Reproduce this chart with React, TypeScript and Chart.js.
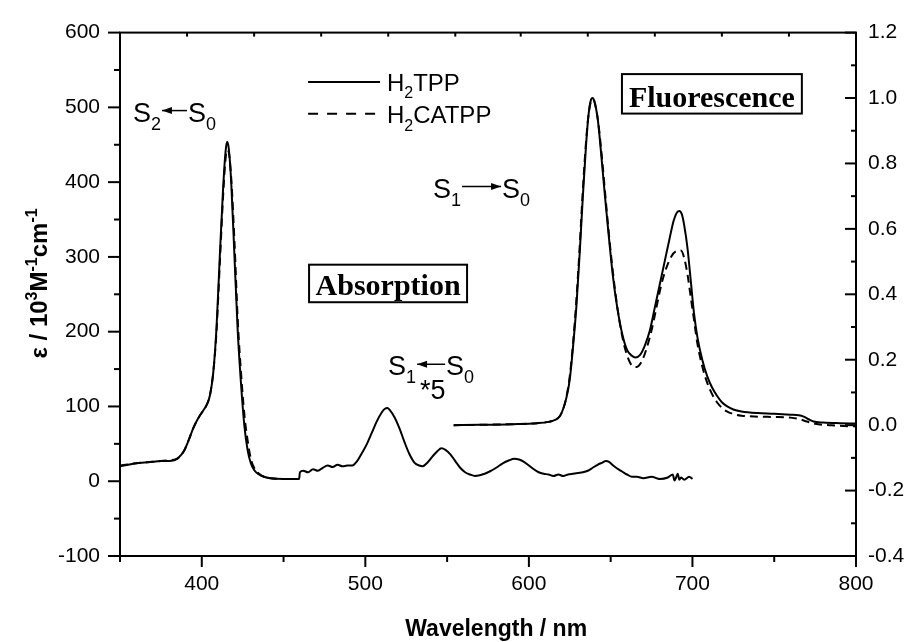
import React, { useEffect, useRef } from 'react';
import { Chart, registerables } from 'chart.js';

Chart.register(...registerables);

// ---------- data (wavelength nm, value) ----------
const ABS_H2TPP: number[][] = [
  [350, 20], [355, 22], [360, 24], [365, 25], [370, 26], [375, 27], [380, 27], [383, 28], [386, 32], [389, 40],
  [392, 55], [395, 72], [398, 85], [401, 95], [403, 102], [405, 115], [407, 145], [409, 205], [411, 300], [413, 390],
  [414.5, 440], [415.5, 454], [416.5, 445], [418, 400], [420, 300], [422, 200], [424, 130], [426, 75], [428, 42], [430, 24],
  [432, 15], [435, 9], [438, 6], [442, 4], [450, 3], [459.5, 3], [460, 12], [462, 14], [465, 12], [468, 16],
  [471, 14], [474, 18], [477, 21], [480, 19], [483, 22], [486, 20], [489, 21], [492, 21], [495, 27], [498, 38],
  [501, 50], [504, 65], [507, 80], [510, 92], [512, 97], [513.5, 98], [515, 95], [518, 85], [521, 70], [524, 52],
  [527, 36], [530, 25], [533, 21], [535, 20], [538, 25], [541, 33], [544, 40], [546.5, 44], [549, 42], [552, 36],
  [555, 27], [558, 18], [561, 12], [564, 9], [567, 7], [570, 8], [573, 10], [576, 13], [580, 18], [584, 24],
  [588, 28], [591, 30], [594, 29], [597, 26], [600, 21], [603, 16], [606, 12], [609, 10], [612, 9], [615, 7],
  [618, 9], [621, 7], [624, 9], [627, 10], [630, 11], [633, 12], [636, 14], [639, 18], [642, 22], [645, 25],
  [647, 27], [649, 26], [651, 22], [654, 17], [657, 13], [660, 9], [663, 6], [666, 6], [670, 4], [675, 6],
  [680, 3], [685, 5], [688, 9], [689, 1], [690, 5], [691, 10], [692, 2], [693, 5], [695, 2], [698, 6], [700, 3],
];

const ABS_H2CATPP: number[][] = [
  [350, 21], [360, 24], [370, 26], [380, 28], [385, 30], [389, 40], [392, 55], [395, 72], [398, 85], [401, 95],
  [403, 102], [405, 115], [407, 145], [409, 200], [411, 290], [413, 380], [414.5, 430], [415.5, 443], [416.5, 440],
  [418, 405], [420, 320], [422, 215], [424, 145], [426, 90], [428, 55], [430, 30], [432, 18], [435, 10], [438, 6],
  [442, 4], [450, 3], [459, 3],
];

const FLU_H2TPP: number[][] = [
  [554, 0], [570, 0.001], [590, 0.003], [605, 0.006], [612, 0.01], [616, 0.016], [619, 0.028], [621, 0.05], [623, 0.085],
  [625, 0.14], [627, 0.24], [629, 0.36], [631, 0.52], [633, 0.7], [635, 0.86], [636.5, 0.95], [638, 0.995], [639, 1.0],
  [640, 0.99], [642, 0.94], [644, 0.84], [646.5, 0.7], [649, 0.57], [651.5, 0.45], [654, 0.36], [657, 0.28], [660, 0.23],
  [663, 0.212], [665, 0.207], [668, 0.215], [671, 0.245], [674, 0.29], [677, 0.36], [680, 0.43], [683, 0.5], [686, 0.57],
  [688.5, 0.625], [690.5, 0.65], [692, 0.655], [693.5, 0.645], [695, 0.61], [697, 0.54], [699, 0.44], [701, 0.34],
  [703, 0.27], [706, 0.2], [709, 0.15], [712, 0.115], [715, 0.09], [718, 0.07], [721, 0.058], [725, 0.048], [730, 0.042],
  [740, 0.037], [750, 0.035], [760, 0.032], [765, 0.03], [768, 0.026], [771, 0.018], [774, 0.011], [780, 0.008],
  [790, 0.006], [800, 0.005],
];

const FLU_H2CATPP: number[][] = [
  [554, 0], [570, 0.001], [590, 0.003], [605, 0.006], [612, 0.01], [616, 0.016], [619, 0.028], [621, 0.05], [623, 0.088],
  [625, 0.15], [627, 0.25], [629, 0.38], [631, 0.54], [633, 0.72], [635, 0.87], [636.5, 0.95], [638, 0.99], [639.5, 0.995],
  [641, 0.97], [643, 0.9], [645, 0.8], [647.5, 0.66], [650, 0.53], [652.5, 0.42], [655, 0.33], [658, 0.25], [661, 0.2],
  [663.5, 0.18], [666, 0.178], [669, 0.195], [672, 0.235], [675, 0.29], [678, 0.36], [681, 0.43], [684, 0.48], [687, 0.515],
  [690, 0.532], [693, 0.534], [695, 0.51], [697, 0.46], [699, 0.39], [701, 0.32], [703, 0.25], [706, 0.18], [709, 0.13],
  [712, 0.095], [715, 0.07], [718, 0.053], [721, 0.042], [725, 0.034], [730, 0.029], [740, 0.026], [750, 0.025],
  [760, 0.023], [765, 0.019], [770, 0.011], [775, 0.004], [785, 0], [795, -0.003], [800, -0.004],
];

// ---------- axes ----------
const X_TICKS = [400, 500, 600, 700, 800];
const X_MINOR = [350, 450, 550, 650, 750];
const TOP_MINOR = [391, 432, 473, 514, 555, 595, 636, 677, 718, 759];
const Y_TICKS = [-100, 0, 100, 200, 300, 400, 500, 600];
const Y_MINOR = [-50, 50, 150, 250, 350, 450, 550];
const Y2_TICKS = [-0.4, -0.2, 0, 0.2, 0.4, 0.6, 0.8, 1.0, 1.2];
const Y2_MINOR = [-0.3, -0.1, 0.1, 0.3, 0.5, 0.7, 0.9, 1.1];

const LEGEND_LABELS = ['H₂TPP', 'H₂CATPP'];

const SANS = "'Liberation Sans', Arial, sans-serif";
const SERIF = "'Liberation Serif', 'Times New Roman', serif";

type Part = [string, 'n' | 'sub' | 'sup'];

function drawParts(ctx: CanvasRenderingContext2D, x: number, y: number, parts: Part[], size: number, weight = 'normal', draw = true) {
  let cx = x;
  for (const [t, k] of parts) {
    const s = k === 'n' ? size : Math.round(size * 0.65);
    const dy = k === 'sub' ? size * 0.3 : k === 'sup' ? -size * 0.42 : 0;
    ctx.font = `${weight} ${s}px ${SANS}`;
    if (draw) ctx.fillText(t, cx, y + dy);
    cx += ctx.measureText(t).width;
  }
  return cx - x;
}

function arrow(ctx: CanvasRenderingContext2D, x1: number, x2: number, y: number) {
  ctx.lineWidth = 1.5;
  ctx.beginPath();
  ctx.moveTo(x1, y);
  ctx.lineTo(x2, y);
  ctx.stroke();
  const d = Math.sign(x2 - x1);
  ctx.beginPath();
  ctx.moveTo(x2, y);
  ctx.lineTo(x2 - d * 10, y - 3.5);
  ctx.lineTo(x2 - d * 10, y + 3.5);
  ctx.closePath();
  ctx.fill();
}

function transition(ctx: CanvasRenderingContext2D, x: number, base: number, lo: string, hi: string, dir: 'left' | 'right', len: number) {
  const w = drawParts(ctx, x, base, [['S', 'n'], [lo, 'sub']], 27);
  const xa = x + w + 1;
  const xb = xa + len;
  if (dir === 'left') arrow(ctx, xb, xa, base - 11);
  else arrow(ctx, xa, xb, base - 11);
  drawParts(ctx, xb + 1, base, [['S', 'n'], [hi, 'sub']], 27);
}

const decor = {
  id: 'decor',
  afterDraw(chart: any) {
    const { ctx, chartArea: a, scales } = chart;
    const sx = scales.x, sy = scales.y, sy2 = scales.y2;
    const px = (v: number) => sx.getPixelForValue(v);
    const py = (v: number) => sy.getPixelForValue(v);
    const py2 = (v: number) => sy2.getPixelForValue(v);
    ctx.save();
    ctx.strokeStyle = '#000';
    ctx.fillStyle = '#000';
    ctx.lineCap = 'butt';
    ctx.lineWidth = 2;
    ctx.strokeRect(a.left, a.top, a.right - a.left, a.bottom - a.top);
    const seg = (x1: number, y1: number, x2: number, y2: number) => {
      ctx.beginPath();
      ctx.moveTo(x1, y1);
      ctx.lineTo(x2, y2);
      ctx.stroke();
    };
    X_TICKS.forEach((v) => seg(px(v), a.bottom, px(v), a.bottom + 11));
    X_MINOR.forEach((v) => seg(px(v), a.bottom, px(v), a.bottom + 6));
    TOP_MINOR.forEach((v) => seg(px(v), a.top, px(v), a.top + 4));
    Y_TICKS.forEach((v) => seg(a.left - 12, py(v), a.left, py(v)));
    Y_MINOR.forEach((v) => seg(a.left - 6, py(v), a.left, py(v)));
    Y2_TICKS.forEach((v) => seg(a.right - 11, py2(v), a.right, py2(v)));
    Y2_MINOR.forEach((v) => seg(a.right - 5, py2(v), a.right, py2(v)));

    // legend
    ctx.lineWidth = 2;
    ctx.setLineDash([]);
    seg(px(465), py(534), px(509), py(534));
    ctx.setLineDash([10, 9]);
    seg(px(465), py(491.5), px(509), py(491.5));
    ctx.setLineDash([]);
    ctx.textBaseline = 'alphabetic';
    ctx.textAlign = 'left';
    drawParts(ctx, px(513.2), py(522), [['H', 'n'], ['2', 'sub'], [LEGEND_LABELS[0].slice(2), 'n']], 24);
    drawParts(ctx, px(513.2), py(478.5), [['H', 'n'], ['2', 'sub'], [LEGEND_LABELS[1].slice(2), 'n']], 24);

    // transitions
    transition(ctx, px(357.9), py(481), '2', '0', 'left', 25);
    transition(ctx, px(541.4), py(379.4), '1', '0', 'right', 39);
    transition(ctx, px(513.9), py(141.7), '1', '0', 'left', 28);
    ctx.font = `normal 27px ${SANS}`;
    ctx.fillText('*5', px(533.4), py(110));

    // boxes
    const box = (x1: number, x2: number, v1: number, v2: number, text: string) => {
      const l = px(x1), r = px(x2), t = py(v1), b = py(v2);
      ctx.lineWidth = 2;
      ctx.strokeRect(l, t, r - l, b - t);
      ctx.font = `bold 30px ${SERIF}`;
      ctx.textAlign = 'center';
      ctx.fillText(text, (l + r) / 2, b - 7);
      ctx.textAlign = 'left';
    };
    box(465.6, 562.2, 289.6, 239.4, 'Absorption');
    box(656.9, 766.9, 544.5, 491.7, 'Fluorescence');

    // x title
    ctx.font = `bold 23px ${SANS}`;
    ctx.textAlign = 'center';
    ctx.fillText('Wavelength / nm', px(580), a.bottom + 80);

    // y title
    const yparts: Part[] = [['ε / 10', 'n'], ['3', 'sup'], ['M', 'n'], ['-1', 'sup'], ['cm', 'n'], ['-1', 'sup']];
    ctx.textAlign = 'left';
    const w = drawParts(ctx, 0, 0, yparts, 24, 'bold', false);
    ctx.translate(a.left - 73, py(264.5));
    ctx.rotate(-Math.PI / 2);
    drawParts(ctx, -w / 2, 0, yparts, 24, 'bold');
    ctx.restore();
  },
};

const toXY = (arr: number[][]) => arr.map(([x, y]) => ({ x, y }));

export default function App() {
  const ref = useRef<HTMLCanvasElement | null>(null);
  useEffect(() => {
    document.body.style.margin = '0';
    if (!ref.current) return;
    const lineBase = {
      borderColor: '#000',
      borderWidth: 2,
      pointRadius: 0,
      cubicInterpolationMode: 'monotone' as const,
      fill: false,
    };
    const chart = new Chart(ref.current, {
      type: 'line',
      data: {
        datasets: [
          { ...lineBase, label: LEGEND_LABELS[0], data: toXY(ABS_H2TPP), yAxisID: 'y' },
          { ...lineBase, label: LEGEND_LABELS[1], data: toXY(ABS_H2CATPP), yAxisID: 'y', borderDash: [8, 5] },
          { ...lineBase, label: LEGEND_LABELS[0] + ' fl', data: toXY(FLU_H2TPP), yAxisID: 'y2' },
          { ...lineBase, label: LEGEND_LABELS[1] + ' fl', data: toXY(FLU_H2CATPP), yAxisID: 'y2', borderDash: [8, 5] },
        ],
      },
      options: {
        animation: false,
        responsive: false,
        maintainAspectRatio: false,
        layout: { padding: { top: 26, left: 0, right: 0, bottom: 0 } },
        plugins: { legend: { display: false }, tooltip: { enabled: false } },
        scales: {
          x: {
            type: 'linear',
            min: 350,
            max: 800,
            grid: { display: false, drawTicks: false },
            border: { display: false },
            afterBuildTicks: (s: any) => { s.ticks = X_TICKS.map((value) => ({ value })); },
            afterFit: (s: any) => { s.height = 86; },
            ticks: { color: '#000', font: { family: SANS, size: 21 }, padding: 16, maxRotation: 0, autoSkip: false,
              callback: (v: any) => String(v) },
          },
          y: {
            type: 'linear',
            position: 'left',
            min: -100,
            max: 600,
            grid: { display: false, drawTicks: false },
            border: { display: false },
            afterBuildTicks: (s: any) => { s.ticks = Y_TICKS.map((value) => ({ value })); },
            afterFit: (s: any) => { s.width = 120; },
            ticks: { color: '#000', font: { family: SANS, size: 21 }, padding: 20, autoSkip: false,
              callback: (v: any) => String(v) },
          },
          y2: {
            type: 'linear',
            position: 'right',
            min: -0.4,
            max: 1.2,
            grid: { display: false, drawTicks: false },
            border: { display: false },
            afterBuildTicks: (s: any) => { s.ticks = Y2_TICKS.map((value) => ({ value })); },
            afterFit: (s: any) => { s.width = 52; },
            ticks: { color: '#000', font: { family: SANS, size: 21 }, padding: 12, autoSkip: false,
              callback: (v: any) => Number(v).toFixed(1) },
          },
        },
      },
      plugins: [decor],
    });
    return () => chart.destroy();
  }, []);
  return (
    <div style={{ width: 908, height: 642, background: '#fff' }}>
      <canvas ref={ref} width={908} height={642} style={{ display: 'block' }} />
    </div>
  );
}
